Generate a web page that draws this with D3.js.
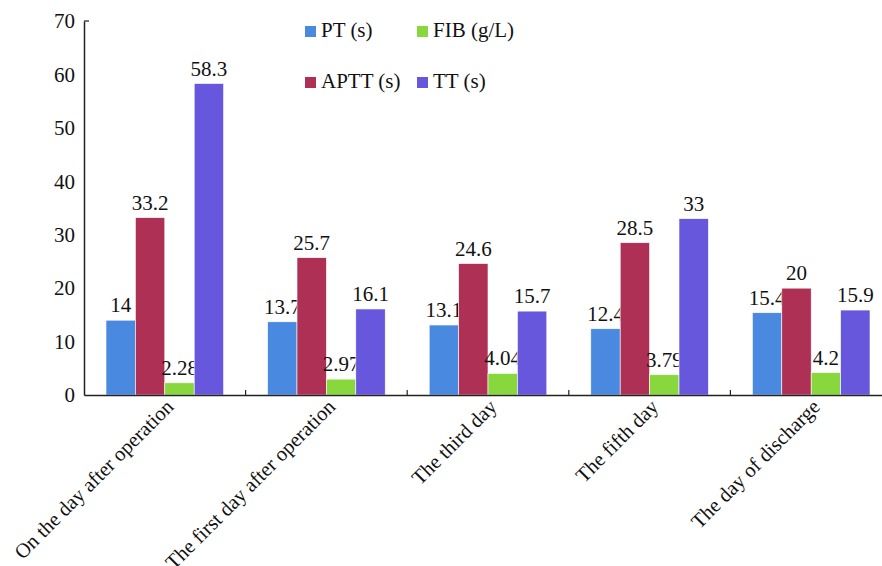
<!DOCTYPE html>
<html><head><meta charset="utf-8">
<script src="https://cdn.jsdelivr.net/npm/d3@7"></script>
<style>body{margin:0;background:#fff}</style>
</head><body><svg id="c" width="882" height="566"></svg>
<script>
const categories = ["On the day after operation","The first day after operation","The third day","The fifth day","The day of discharge"];
const seriesNames = ["PT (s)","APTT (s)","FIB (g/L)","TT (s)"];
const PT = [14,13.7,13.1,12.4,15.4];
const APTT = [33.2,25.7,24.6,28.5,20];
const FIB = [2.28,2.97,4.04,3.79,4.2];
const TT = [58.3,16.1,15.7,33,15.9];
const valueLabels = [["14","13.7","13.1","12.4","15.4"],["33.2","25.7","24.6","28.5","20"],["2.28","2.97","4.04","3.79","4.2"],["58.3","16.1","15.7","33","15.9"]];
const yTicks = [0,10,20,30,40,50,60,70];
const colors = ["#4a89e0","#ae3155","#88d73c","#6657dd"];
const series = [PT,APTT,FIB,TT];
const FONT = "'Liberation Serif','Times New Roman',Times,serif";

const svg = d3.select("#c").attr("font-family",FONT);
const mLeft=84, mBottom=395, mTop=21;
const x = d3.scaleBand().domain(categories).range([mLeft, mLeft+5*161.6]).paddingInner(0).paddingOuter(0);
const xi = d3.scaleBand().domain(seriesNames).range([22, 161.6-22]);
const y = d3.scaleLinear().domain([0,70]).range([mBottom, mTop]);

series.forEach((s,si)=>{
  const g = svg.append("g");
  g.selectAll("rect").data(s).join("rect")
    .attr("x",(d,i)=>x(categories[i])+xi(seriesNames[si]))
    .attr("y",d=>y(d)).attr("width",xi.bandwidth()).attr("height",d=>y(0)-y(d))
    .attr("fill",colors[si]).attr("stroke","#fff").attr("stroke-width",0.6);
  g.selectAll("text").data(s).join("text")
    .attr("x",(d,i)=>x(categories[i])+xi(seriesNames[si])+xi.bandwidth()/2)
    .attr("y",d=>y(d)-8).attr("text-anchor","middle").attr("font-size",21).attr("font-family",FONT).attr("fill","#111")
    .text((d,i)=>valueLabels[si][i]);
});

const ya = svg.append("g").attr("transform",`translate(${mLeft},0)`)
  .call(d3.axisLeft(y).tickValues(yTicks).tickSize(0).tickPadding(9));
ya.attr("font-family",FONT);
ya.select(".domain").attr("stroke","#222").attr("stroke-width",1.5);
ya.selectAll("text").attr("font-size",21).attr("fill","#111").attr("font-family",FONT);
svg.append("line").attr("x1",mLeft).attr("x2",mLeft+5).attr("y1",y(70)).attr("y2",y(70)).attr("stroke","#222").attr("stroke-width",1.2);

const xa = svg.append("g").attr("transform",`translate(0,${mBottom})`)
  .call(d3.axisBottom(x).tickSize(0).tickFormat(""));
xa.select(".domain").attr("stroke","#222").attr("stroke-width",1.5);
categories.slice(1).forEach(c=>{
  svg.append("line").attr("x1",x(c)).attr("x2",x(c)).attr("y1",mBottom).attr("y2",mBottom-5).attr("stroke","#222").attr("stroke-width",1.2);
});
svg.append("g").selectAll("text").data(categories).join("text")
  .attr("transform",d=>`translate(${x(d)+x.bandwidth()/2+10},${mBottom+13}) rotate(-45)`)
  .attr("text-anchor","end").attr("font-size",20.5).attr("font-family",FONT).attr("fill","#111").text(d=>d);

const legPos = [[305,26],[305,77],[417,26],[417,77]];
seriesNames.forEach((n,i)=>{
  const [lx,ly]=legPos[i];
  svg.append("rect").attr("x",lx).attr("y",ly).attr("width",11).attr("height",11).attr("fill",colors[i]);
  svg.append("text").attr("x",lx+16).attr("y",ly+11).attr("font-size",21).attr("font-family",FONT).attr("fill","#111").text(n);
});
</script></body></html>
